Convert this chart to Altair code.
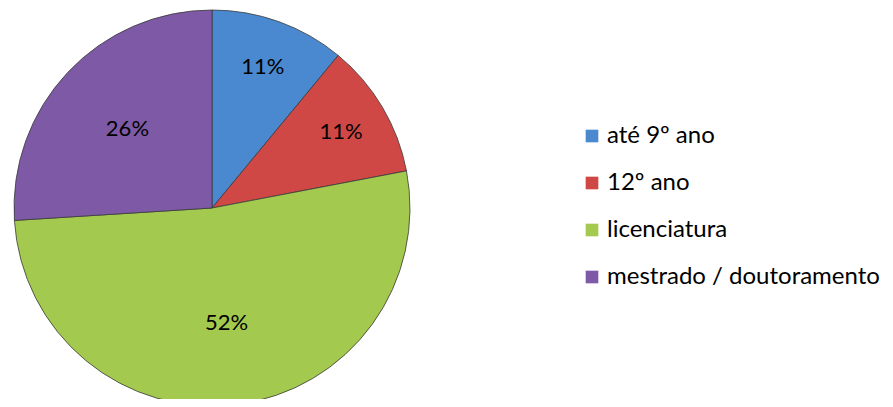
import altair as alt
import pandas as pd

categories = ["até 9º ano", "12º ano", "licenciatura", "mestrado / doutoramento"]
values = [11, 11, 52, 26]
labels = ["11%", "11%", "52%", "26%"]
colors = ["#4A88CF", "#D04845", "#A4C94F", "#7E5AA6"]

df = pd.DataFrame({"cat": categories, "value": values, "label": labels,
                   "order": list(range(len(categories)))})

CX, CY, R = 204, 200, 198

pie = alt.Chart(df).mark_arc(stroke="#3a3a3a", strokeWidth=0.8).encode(
    theta=alt.Theta("value:Q", stack=True, scale=alt.Scale(domain=[0, 100])),
    order=alt.Order("order:Q"),
    x=alt.value(CX), y=alt.value(CY),
    radius=alt.value(R),
    color=alt.Color("cat:N", sort=categories,
                    scale=alt.Scale(domain=categories, range=colors),
                    legend=alt.Legend(title=None, orient="none", legendX=572, legendY=116,
                                      symbolType="square", symbolSize=160,
                                      symbolStrokeWidth=0,
                                      labelFont="Lato", labelFontSize=24, labelColor="#000",
                                      rowPadding=23, labelOffset=3, labelLimit=400)),
)

text = alt.Chart(df).transform_window(
    cum="sum(value)", sort=[alt.SortField("order")]
).transform_calculate(
    mid="datum.cum - datum.value / 2",
    r="datum.value < 20 ? 150 : 116",
).mark_text(font="Lato", fontSize=22, color="#000").encode(
    theta=alt.Theta("mid:Q", stack=None, scale=alt.Scale(domain=[0, 100])),
    x=alt.value(CX), y=alt.value(CY),
    radius=alt.Radius("r:Q", scale=None),
    text="label:N",
)

chart = (pie + text).properties(width=877, height=391, padding=0,
                                autosize=alt.AutoSizeParams(type="none")).configure_view(stroke=None)

chart.save("out.html", embed_options={"renderer": "svg", "actions": False})
